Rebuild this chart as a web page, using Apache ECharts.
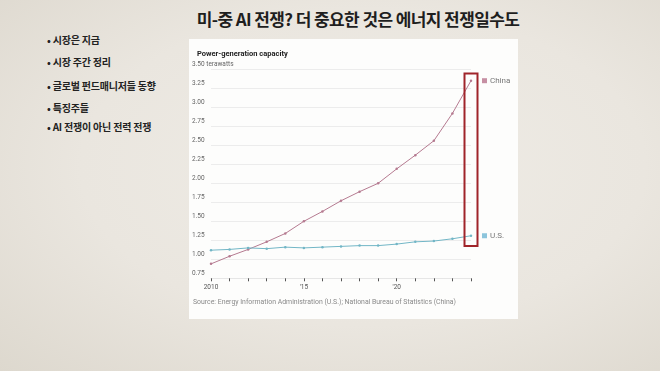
<!DOCTYPE html>
<html>
<head>
<meta charset="utf-8">
<script src="https://cdn.jsdelivr.net/npm/echarts@6/dist/echarts.min.js"></script>
<style>
  html, body { margin: 0; padding: 0; }
  body { width: 660px; height: 371px; overflow: hidden; position: relative;
    background: radial-gradient(ellipse at 55% 45%, #efece6 0%, #eae6df 55%, #ddd8ce 100%);
    font-family: "Noto Sans CJK KR", "Noto Sans", sans-serif; }
  #title { position: absolute; left: 0; width: 660px; top: 6px; text-align: center; padding-left: 56px; box-sizing: border-box;
    font-size: 17px; font-weight: 700; color: #1e1e1e; letter-spacing: -0.6px; }
  .bullet { position: absolute; left: 47px; font-size: 10px; font-weight: 700; color: #222; letter-spacing: -0.2px; white-space: nowrap; }
  #panel { position: absolute; left: 189px; top: 39px; width: 329px; height: 280px; background: #fdfdfc; }
  #chart { position: absolute; left: 0; top: 0; width: 660px; height: 371px; }
</style>
</head>
<body>
<div id="title">미-중 AI 전쟁? 더 중요한 것은 에너지 전쟁일수도</div>
<div class="bullet" style="top:32px">• 시장은 지금</div>
<div class="bullet" style="top:54px">• 시장 주간 정리</div>
<div class="bullet" style="top:78px">• 글로벌 펀드매니저들 동향</div>
<div class="bullet" style="top:100px">• 특징주들</div>
<div class="bullet" style="top:119px">• AI 전쟁이 아닌 전력 전쟁</div>
<div id="panel"></div>
<div id="chart"></div>
<script>
const years = ['2010','2011','2012','2013','2014','2015','2016','2017','2018','2019','2020','2021','2022','2023','2024'];
const xTickLabels = ['2010','','','','',"'15",'','','','',"'20",'','','',''];
const chinaValues = [0.94, 1.04, 1.13, 1.23, 1.34, 1.50, 1.63, 1.77, 1.89, 2.00, 2.19, 2.37, 2.56, 2.92, 3.35];
const usValues = [1.12, 1.13, 1.15, 1.14, 1.16, 1.15, 1.16, 1.17, 1.18, 1.18, 1.20, 1.23, 1.24, 1.27, 1.31];
const seriesNames = ['China', 'U.S.'];
const yMin = 0.75, yMax = 3.5, yStep = 0.25;
const highlightYear = '2024';
const highlightRange = [1.175, 3.445];

const chinaColor = '#b57a90';
const usColor = '#72b6c6';
const txtFont = '"Liberation Sans Narrow", Roboto, sans-serif';
const sourceText = 'Source: Energy Information Administration (U.S.); National Bureau of Statistics (China)';

const chart = echarts.init(document.getElementById('chart'), null, { renderer: 'canvas' });

function endLabel(name, sqColor) {
  return {
    show: true,
    distance: 11,
    formatter: '{sq| }{t|' + name + '}',
    rich: {
      sq: { width: 5, height: 5, backgroundColor: sqColor, verticalAlign: 'middle' },
      t: { fontSize: 8, color: '#777', fontFamily: 'Roboto, sans-serif', padding: [0, 0, 0, 3] }
    }
  };
}

chart.setOption({
  animation: false,
  backgroundColor: 'transparent',
  title: {
    text: 'Power-generation capacity',
    left: 192, top: 45,
    textStyle: { fontSize: 7.5, fontWeight: 'bold', color: '#222', fontFamily: 'Roboto, sans-serif' }
  },
  grid: { left: 211, right: 189, top: 69.3, bottom: 92.7, containLabel: false },
  xAxis: {
    type: 'category',
    data: years,
    boundaryGap: false,
    axisLine: { show: true, lineStyle: { color: '#e6e6e6', width: 1 } },
    axisTick: { show: true, length: 3, interval: 0, lineStyle: { color: '#555', width: 1 } },
    axisLabel: {
      interval: 0, margin: 6, fontSize: 6.5, color: '#555', fontFamily: txtFont,
      formatter: (v, i) => xTickLabels[i]
    },
    splitLine: { show: false }
  },
  yAxis: {
    type: 'value',
    min: yMin, max: yMax, interval: yStep,
    axisLine: { show: false },
    axisTick: { show: false },
    axisLabel: {
      align: 'left', verticalAlign: 'bottom', margin: 19, fontSize: 6.5, color: '#666',
      fontFamily: txtFont, padding: [0, 0, 1, 0],
      formatter: v => (Math.abs(v - yMax) < 1e-9 ? v.toFixed(2) + ' terawatts' : v.toFixed(2))
    },
    splitLine: { show: true, lineStyle: { color: '#ececec', width: 1 } }
  },
  series: [
    {
      name: seriesNames[0], type: 'line', data: chinaValues,
      symbol: 'circle', symbolSize: 2.5,
      itemStyle: { color: chinaColor },
      lineStyle: { color: chinaColor, width: 1 },
      endLabel: endLabel(seriesNames[0], '#c68fa3')
    },
    {
      name: seriesNames[1], type: 'line', data: usValues,
      symbol: 'circle', symbolSize: 2.5,
      itemStyle: { color: usColor },
      lineStyle: { color: usColor, width: 1 },
      endLabel: endLabel(seriesNames[1], '#8cc5dc')
    }
  ]
});

// Highlight box around the latest year, positioned through the chart's own scales
const pTop = chart.convertToPixel({ gridIndex: 0 }, [highlightYear, highlightRange[1]]);
const pBot = chart.convertToPixel({ gridIndex: 0 }, [highlightYear, highlightRange[0]]);
chart.setOption({
  graphic: [
    {
      type: 'text', left: 193, top: 299,
      style: { text: sourceText, fontSize: 6.9, fill: '#8a8a8a', fontFamily: txtFont }
    },
    {
      type: 'rect',
      shape: { x: pTop[0] - 6.5, y: pTop[1], width: 13, height: pBot[1] - pTop[1] },
      style: { fill: 'none', stroke: '#a0242a', lineWidth: 2 },
      z: 100
    }
  ]
});
</script>
</body>
</html>
